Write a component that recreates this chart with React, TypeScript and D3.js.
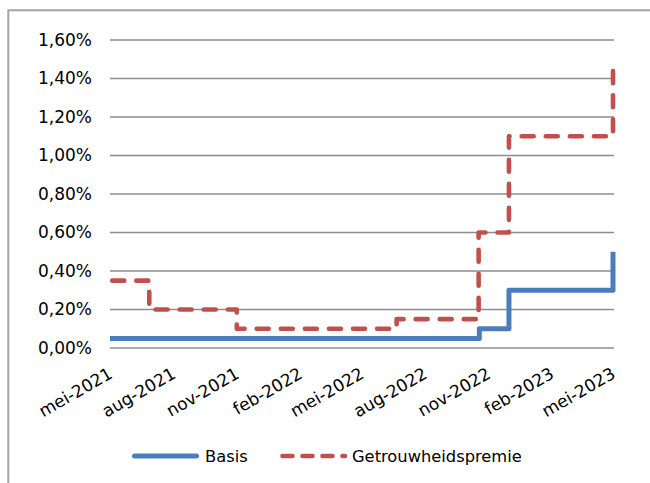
import { useRef, useEffect } from 'react';
import * as d3 from 'd3';

// Rentestanden (in %), stapsgewijs
const basisDates = ['2021-05-01', '2022-10-19', '2022-12-01', '2023-05-01'];
const basisValues = [0.05, 0.1, 0.3, 0.5];

const premieDates = ['2021-05-01', '2021-06-27', '2021-11-01', '2022-06-21', '2022-10-18', '2022-12-01', '2023-05-01'];
const premieValues = [0.35, 0.2, 0.1, 0.15, 0.6, 1.1, 1.45];

const xTickDates = ['2021-05-01', '2021-08-01', '2021-11-01', '2022-02-01', '2022-05-01', '2022-08-01', '2022-11-01', '2023-02-01', '2023-05-01'];
const yTicks = [0, 0.2, 0.4, 0.6, 0.8, 1.0, 1.2, 1.4, 1.6];

const seriesNames = ['Basis', 'Getrouwheidspremie'];

const WIDTH = 650;
const HEIGHT = 483;
const FONT = 'Verdana, "DejaVu Sans", sans-serif';
const BLUE = '#4a7ebb';
const RED = '#c0504d';

const nl = d3.timeFormatLocale({
  dateTime: '%a %e %B %Y %X',
  date: '%d-%m-%Y',
  time: '%H:%M:%S',
  periods: ['AM', 'PM'],
  days: ['zondag', 'maandag', 'dinsdag', 'woensdag', 'donderdag', 'vrijdag', 'zaterdag'],
  shortDays: ['zo', 'ma', 'di', 'wo', 'do', 'vr', 'za'],
  months: ['januari', 'februari', 'maart', 'april', 'mei', 'juni', 'juli', 'augustus', 'september', 'oktober', 'november', 'december'],
  shortMonths: ['jan', 'feb', 'mrt', 'apr', 'mei', 'jun', 'jul', 'aug', 'sep', 'okt', 'nov', 'dec'],
});
const nlNum = d3.formatLocale({ decimal: ',', thousands: '.', grouping: [3], currency: ['€', ''] });

const parse = d3.utcParse('%Y-%m-%d');

export default function App() {
  const svgRef = useRef<SVGSVGElement>(null);

  useEffect(() => {
    if (!svgRef.current) return;
    const svg = d3.select(svgRef.current);
    svg.selectAll('*').remove();

    const x = d3.scaleUtc()
      .domain([parse(xTickDates[0])!, parse(xTickDates[xTickDates.length - 1])!])
      .range([110, 613]);
    const y = d3.scaleLinear().domain([0, 1.6]).range([348, 40]);

    // chart border
    svg.append('rect')
      .attr('x', 8.3).attr('y', 10.3)
      .attr('width', 700).attr('height', 500)
      .attr('fill', 'white')
      .attr('stroke', '#a3a3a3')
      .attr('stroke-width', 2);

    // gridlines
    svg.append('g')
      .selectAll('line')
      .data(yTicks)
      .join('line')
      .attr('x1', x.range()[0])
      .attr('x2', x.range()[1] + 1)
      .attr('y1', d => y(d))
      .attr('y2', d => y(d))
      .attr('stroke', '#8c8c8c')
      .attr('stroke-width', 1.4);

    // Y axis labels
    const yAxis = d3.axisLeft(y)
      .tickValues(yTicks)
      .tickSize(0)
      .tickPadding(18)
      .tickFormat(d => nlNum.format('.2f')(d as number) + '%');
    const gy = svg.append('g')
      .attr('transform', `translate(${x.range()[0]},0)`)
      .call(yAxis);
    gy.select('.domain').remove();
    gy.selectAll('text')
      .attr('fill', '#000')
      .attr('font-size', '17px')
      .attr('font-family', FONT);

    // X axis labels (rotated)
    const fmt = nl.utcFormat('%b-%Y');
    svg.append('g')
      .selectAll('text')
      .data(xTickDates.map(d => parse(d)!))
      .join('text')
      .attr('transform', d => `translate(${x(d) + 3.5},377) rotate(-30)`)
      .attr('text-anchor', 'end')
      .attr('fill', '#000')
      .attr('font-size', '17px')
      .attr('font-family', FONT)
      .text(d => fmt(d));

    const line = d3.line<[Date, number]>()
      .x(d => x(d[0]))
      .y(d => y(d[1]))
      .curve(d3.curveStepAfter);

    const basis: [Date, number][] = basisDates.map((d, i) => [parse(d)!, basisValues[i]]);
    const premie: [Date, number][] = premieDates.map((d, i) => [parse(d)!, premieValues[i]]);

    svg.append('path')
      .datum(basis)
      .attr('fill', 'none')
      .attr('stroke', BLUE)
      .attr('stroke-width', 5)
      .attr('stroke-linejoin', 'round')
      .attr('d', line);

    const redPath = svg.append('path')
      .datum(premie)
      .attr('fill', 'none')
      .attr('stroke', RED)
      .attr('stroke-width', 4.6)
      .attr('stroke-linejoin', 'round')
      .attr('stroke-linecap', 'round')
      .attr('d', line);

    // fit the dash period so the line starts and ends on a dash
    const dash = 12;
    const len = (redPath.node() as SVGPathElement).getTotalLength() - 4.5;
    const n = Math.round((len - dash) / 23.8);
    const period = (len - dash) / n;
    redPath
      .attr('stroke-dasharray', `${dash},${period - dash}`)
      .attr('stroke-dashoffset', -2.25);

    // Legend
    const legend = svg.append('g').attr('transform', 'translate(0,456)');
    legend.append('line')
      .attr('x1', 134.5).attr('x2', 196.5)
      .attr('stroke', BLUE).attr('stroke-width', 5)
      .attr('stroke-linecap', 'round');
    legend.append('text')
      .attr('x', 205).attr('dy', '0.36em')
      .attr('font-size', '16.3px').attr('font-family', FONT)
      .attr('fill', '#000')
      .text(seriesNames[0]);
    legend.append('line')
      .attr('x1', 282.5).attr('x2', 345)
      .attr('stroke', RED).attr('stroke-width', 4.6)
      .attr('stroke-linecap', 'round')
      .attr('stroke-dasharray', '10,10');
    legend.append('text')
      .attr('x', 352).attr('dy', '0.36em')
      .attr('font-size', '16.3px').attr('font-family', FONT)
      .attr('fill', '#000')
      .text(seriesNames[1]);
  }, []);

  return (
    <svg
      ref={svgRef}
      width={WIDTH}
      height={HEIGHT}
      style={{ position: 'absolute', left: 0, top: 0, background: 'white' }}
    />
  );
}
